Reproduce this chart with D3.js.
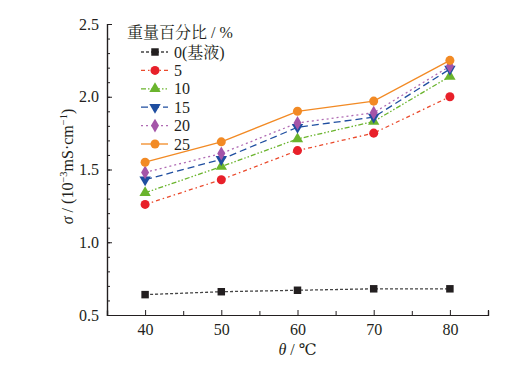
<!DOCTYPE html>
<html>
<head>
<meta charset="utf-8">
<script src="https://cdn.jsdelivr.net/npm/d3@7"></script>
<style>
  body { margin: 0; background: #fff; }
</style>
</head>
<body>
<div id="chart"></div>
<script>
/* DATA */
var temps = [40, 50, 60, 70, 80];
var seriesNames = ["0(基液)", "5", "10", "15", "20", "25"];
var s0 = [0.64, 0.66, 0.67, 0.68, 0.68];
var s5 = [1.26, 1.43, 1.63, 1.75, 2.00];
var s10 = [1.34, 1.52, 1.71, 1.83, 2.14];
var s15 = [1.43, 1.57, 1.79, 1.86, 2.19];
var s20 = [1.48, 1.61, 1.82, 1.89, 2.21];
var s25 = [1.55, 1.69, 1.90, 1.97, 2.25];
var xTicks = [40, 50, 60, 70, 80];
var yTicks = [0.5, 1.0, 1.5, 2.0, 2.5];

var serif = "Liberation Serif, DejaVu Serif, Noto Serif CJK SC, Noto Sans CJK SC, serif";

// styles for each series
var styles = [
  {color: "#231f20", line: "#444", dash: "3,2", symbol: d3.symbolSquare, size: 56, rot: 0},
  {color: "#e8202a", line: "#ea4a2c", dash: "4,3,1.5,3", symbol: d3.symbolCircle, size: 64, rot: 0},
  {color: "#6ab42d", line: "#6ab42d", dash: "5,2,1.5,2,1.5,2", symbol: d3.symbolTriangle, size: 56, rot: 0},
  {color: "#1f4ea0", line: "#1f4ea0", dash: "7,4", symbol: d3.symbolTriangle, size: 56, rot: 180},
  {color: "#a455a8", line: "#b06cb4", dash: "2,3", symbol: d3.symbolDiamond, size: 56, rot: 0},
  {color: "#f28a24", line: "#f28a24", dash: null, symbol: d3.symbolCircle, size: 64, rot: 0}
];
var allSeries = [s0, s5, s10, s15, s20, s25];

var margin = {top: 24, right: 26, bottom: 60, left: 107},
    width = 514 - margin.left - margin.right,
    height = 375 - margin.top - margin.bottom;

var svg = d3.select("#chart").append("svg")
  .attr("width", 514)
  .attr("height", 375)
  .attr("font-family", serif)
  .append("g")
    .attr("transform", "translate(" + margin.left + "," + margin.top + ")");

var x = d3.scaleLinear().domain([35, 85]).range([0, width]);
var y = d3.scaleLinear().domain([0.5, 2.5]).range([height, 0]);

// x axis, ticks pointing inward
svg.append("g")
  .attr("transform", "translate(0," + height + ")")
  .call(d3.axisBottom(x).tickValues(xTicks).tickSize(-5).tickPadding(9).tickFormat(d3.format("d")));
svg.append("g")
  .attr("transform", "translate(0," + height + ")")
  .call(d3.axisBottom(x).tickValues(d3.range(35, 86, 10)).tickSize(-4).tickFormat(""));

svg.append("g")
  .call(d3.axisLeft(y).tickValues(yTicks).tickSize(-5).tickPadding(8).tickFormat(d3.format(".1f")));
svg.append("g")
  .call(d3.axisLeft(y).tickValues(d3.range(6, 25).map(function(d) { return d / 10; })).tickSize(-3).tickFormat(""));

svg.selectAll("g").attr("font-family", serif);
svg.selectAll(".domain").attr("stroke", "#231f20").attr("stroke-width", 1.2);
svg.selectAll(".tick line").attr("stroke", "#231f20");
svg.selectAll(".tick text")
  .attr("font-size", 16)
  .attr("fill", "#231f20");

// lines and markers
var line = d3.line()
  .x(function(d, i) { return x(temps[i]); })
  .y(function(d) { return y(d); });

allSeries.forEach(function(s, k) {
  var st = styles[k];
  svg.append("path")
    .datum(s)
    .attr("d", line)
    .attr("fill", "none")
    .attr("stroke", st.line)
    .attr("stroke-width", 1.3)
    .attr("stroke-dasharray", st.dash);
});

allSeries.forEach(function(s, k) {
  var st = styles[k];
  svg.selectAll(".m" + k)
    .data(s)
    .enter().append("path")
    .attr("d", d3.symbol().type(st.symbol).size(st.size))
    .attr("transform", function(d, i) { return "translate(" + x(temps[i]) + "," + y(d) + ") rotate(" + st.rot + ")"; })
    .attr("fill", st.color);
});

// legend
svg.append("text")
  .attr("x", 127 - margin.left)
  .attr("y", 38 - margin.top)
  .attr("font-size", 16)
  .attr("fill", "#231f20")
  .text("重量百分比 / %");

var legend = svg.selectAll(".legend")
  .data(seriesNames)
  .enter().append("g")
  .attr("transform", function(d, i) { return "translate(0," + (52 + i * 18.4 - margin.top) + ")"; });

legend.append("line")
  .attr("x1", 141 - margin.left)
  .attr("x2", 168 - margin.left)
  .attr("stroke", function(d, i) { return styles[i].line; })
  .attr("stroke-width", 1.3)
  .attr("stroke-dasharray", function(d, i) { return styles[i].dash; });

legend.append("path")
  .attr("d", function(d, i) { return d3.symbol().type(styles[i].symbol).size(styles[i].size)(); })
  .attr("transform", function(d, i) { return "translate(" + (155 - margin.left) + ",0) rotate(" + styles[i].rot + ")"; })
  .attr("fill", function(d, i) { return styles[i].color; });

legend.append("text")
  .attr("x", 174 - margin.left)
  .attr("dy", "0.35em")
  .attr("font-size", 16)
  .attr("fill", "#231f20")
  .text(function(d) { return d; });

// x axis label
var xl = svg.append("text")
  .attr("x", width / 2)
  .attr("y", height + 40)
  .attr("text-anchor", "middle")
  .attr("font-size", 16)
  .attr("fill", "#231f20");
xl.append("tspan").attr("font-style", "italic").text("θ");
xl.append("tspan").text(" / ℃");

// y axis label
var yl = svg.append("text")
  .attr("transform", "translate(" + (-34) + "," + (height / 2 - 3) + ") rotate(-90)")
  .attr("text-anchor", "middle")
  .attr("font-size", 16)
  .attr("fill", "#231f20");
yl.append("tspan").attr("font-style", "italic").text("σ");
yl.append("tspan").text(" / (10");
yl.append("tspan").attr("font-size", 10.5).attr("dy", -6).text("−3");
yl.append("tspan").attr("dy", 6).text("mS·cm");
yl.append("tspan").attr("font-size", 10.5).attr("dy", -6).text("−1");
yl.append("tspan").attr("dy", 6).text(")");
</script>
</body>
</html>
